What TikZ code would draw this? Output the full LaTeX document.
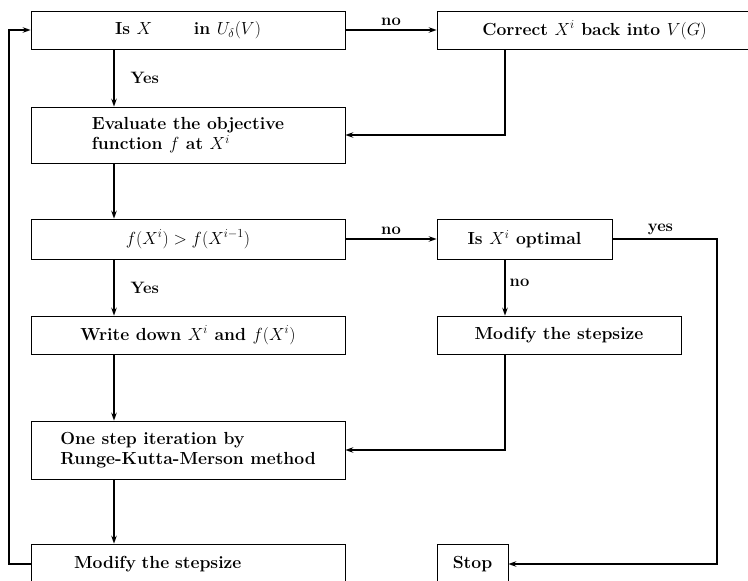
\documentclass[tikz,border=0pt]{standalone}
\usepackage{fix-cm}
\usetikzlibrary{arrows.meta}

\begin{document}
\begin{tikzpicture}[
  x=1pt, y=-1pt,
  box/.style ={draw, line width=0.7pt, minimum width=314pt, inner sep=0pt,
               font=\fontsize{17.5}{20}\selectfont\bfseries},
  flow/.style={-{Stealth[length=8pt,width=5.5pt]}, line width=1.4pt},
  lbl/.style ={font=\fontsize{16.5}{18}\selectfont\bfseries, inner sep=1pt},
]
\useasboundingbox (0,0) rectangle (748,581);

% ----- rails -----------------------------------------------------------
\coordinate (spine) at (114,0);
\coordinate (rcol)  at (505,0);
\coordinate (rrail) at (717,0);
\coordinate (lrail) at (9,0);

% ----- left column -----------------------------------------------------
\node[box, minimum height=38pt] (isin) at (188,30)
      {Is $X$\hspace{2em} in $U_\delta(V)$};
\node[box, minimum height=56pt, align=left] (eval) at (188,135)
      {Evaluate the objective\\ function $f$ at $X^i$};
\node[box, minimum height=40pt] (comp) at (188,239) {$f(X^i)>f(X^{i-1})$};
\node[box, minimum height=38pt] (write) at (188,335)
      {Write down $X^i$ and $f(X^i)$};
\node[box, minimum height=58pt, align=left] (rk) at (188,450)
      {One step iteration by\\ Runge-Kutta-Merson method};
\node[box, minimum height=40pt, text width=228pt, align=left] (modl) at (188,564)
      {Modify the stepsize};

% ----- right column ----------------------------------------------------
\node[box, minimum width=315pt, minimum height=38pt] (correct) at (594.5,30)
      {Correct $X^i$ back into $V(G)$};
\node[box, minimum width=175pt, minimum height=40pt] (opt) at (524.5,239)
      {Is $X^i$ optimal};
\node[box, minimum width=244pt, minimum height=38pt] (modr) at (559,335)
      {Modify the stepsize};
\node[box, minimum width=71pt, minimum height=40pt] (stop) at (472.5,564) {Stop};

% ----- connectors ------------------------------------------------------
\draw[flow] (isin.east) -- node[lbl, above=3pt] (noA) {no} (correct.west);
\draw[flow] (isin.south -| spine) -- node[lbl, right=15pt] (yesA) {Yes}
      (eval.north -| spine);
\draw[flow] (correct.south -| rcol) |- (eval.east);
\draw[flow] (eval.south -| spine) -- (comp.north -| spine);
\draw[flow] (comp.east) -- node[lbl, above=3pt] (noB) {no} (opt.west);
\draw[flow] (comp.south -| spine) -- node[lbl, right=15pt] (yesB) {Yes}
      (write.north -| spine);
\draw[flow] (opt.south -| rcol) -- node[lbl, right=3pt, pos=0.42] (noC) {no}
      (modr.north -| rcol);
\draw[flow] (opt.east) -- node[lbl, above=3pt, pos=0.46] (yesC) {yes}
      (opt.east -| rrail) |- (stop.east);
\draw[flow] (write.south -| spine) -- (rk.north -| spine);
\draw[flow] (modr.south -| rcol) |- (rk.east);
\draw[flow] (rk.south -| spine) -- (modl.north -| spine);
\draw[flow] (modl.west) -- (modl.west -| lrail) |- (isin.west);

\end{tikzpicture}
\end{document}
